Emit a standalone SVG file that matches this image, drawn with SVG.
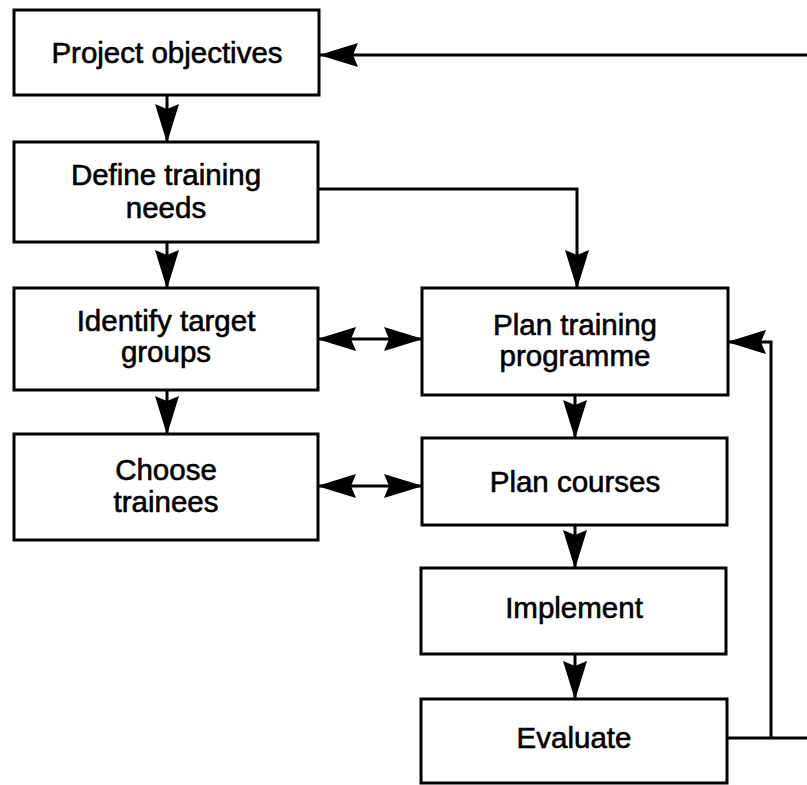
<svg xmlns="http://www.w3.org/2000/svg" width="807" height="785" viewBox="0 0 807 785">
<style>
.box{fill:#fff;stroke:#000;stroke-width:3}
.lbl{font-family:"Liberation Sans",Arial,sans-serif;font-size:29.5px;fill:#000;stroke:#000;stroke-width:0.6;text-anchor:middle}
.con{fill:none;stroke:#000;stroke-width:3}
</style>
<defs>
<marker id="ah" markerUnits="userSpaceOnUse" markerWidth="44" markerHeight="30" refX="0" refY="0" viewBox="-40 -15 44 30" orient="auto-start-reverse">
<path d="M1,0 L-38,-12 L-33,0 L-38,12 Z" fill="#000"/>
</marker>
</defs>
<rect width="807" height="785" fill="#fff"/>
<g id="connectors">
<path class="con" d="M167,95 V142" marker-end="url(#ah)"/>
<path class="con" d="M167,242 V288" marker-end="url(#ah)"/>
<path class="con" d="M167,390 V434" marker-end="url(#ah)"/>
<path class="con" d="M318,189 H577 V288" marker-end="url(#ah)"/>
<path class="con" d="M318,339 H422" marker-start="url(#ah)" marker-end="url(#ah)"/>
<path class="con" d="M318,486 H422" marker-start="url(#ah)" marker-end="url(#ah)"/>
<path class="con" d="M575,395 V438" marker-end="url(#ah)"/>
<path class="con" d="M575,525 V568" marker-end="url(#ah)"/>
<path class="con" d="M575,654 V699" marker-end="url(#ah)"/>
<path class="con" d="M727,738 H807"/>
<path class="con" d="M771,738 V342 H728" marker-end="url(#ah)"/>
<path class="con" d="M807,55 H320" marker-end="url(#ah)"/>
</g>
<g id="project-objectives">
<rect class="box" x="14" y="10" width="305" height="85"/>
<text class="lbl" x="167" y="63">Project objectives</text>
</g>
<g id="define-training-needs">
<rect class="box" x="14" y="142" width="304" height="100"/>
<text class="lbl" x="166" y="185">Define training</text>
<text class="lbl" x="166" y="218">needs</text>
</g>
<g id="identify-target-groups">
<rect class="box" x="14" y="288" width="304" height="102"/>
<text class="lbl" x="166" y="331">Identify target</text>
<text class="lbl" x="166" y="362">groups</text>
</g>
<g id="choose-trainees">
<rect class="box" x="14" y="434" width="304" height="106"/>
<text class="lbl" x="166" y="480">Choose</text>
<text class="lbl" x="166" y="512">trainees</text>
</g>
<g id="plan-training-programme">
<rect class="box" x="422" y="288" width="306" height="107"/>
<text class="lbl" x="575" y="335">Plan training</text>
<text class="lbl" x="575" y="366">programme</text>
</g>
<g id="plan-courses">
<rect class="box" x="422" y="438" width="305" height="87"/>
<text class="lbl" x="575" y="492">Plan courses</text>
</g>
<g id="implement">
<rect class="box" x="421" y="568" width="305" height="86"/>
<text class="lbl" x="574" y="618">Implement</text>
</g>
<g id="evaluate">
<rect class="box" x="421" y="699" width="306" height="84"/>
<text class="lbl" x="574" y="748">Evaluate</text>
</g>
</svg>
